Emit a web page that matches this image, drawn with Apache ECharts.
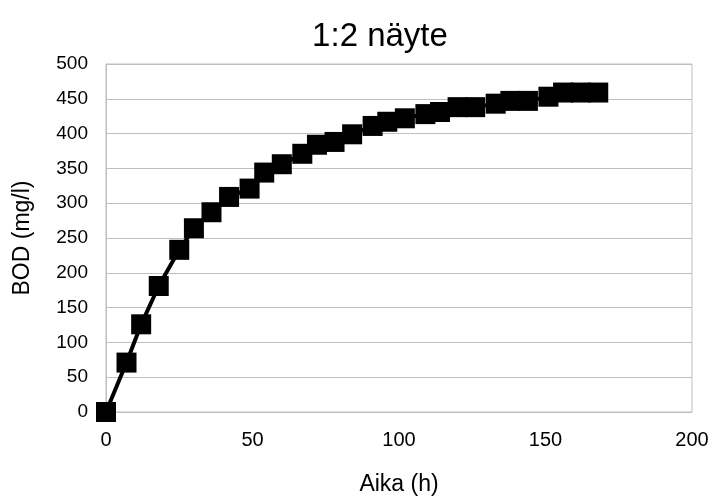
<!DOCTYPE html>
<html>
<head>
<meta charset="utf-8">
<script src="https://cdn.jsdelivr.net/npm/echarts@6/dist/echarts.min.js"></script>
<style>
    html, body { margin: 0; padding: 0; background: #fff; }
    #chart { width: 713px; height: 498px; }
</style>
</head>
<body>
<div id="chart"></div>
<script>
    // aika (h)
    var hours = [0, 7, 12, 18, 25, 30, 36, 42, 49, 54, 60, 67, 72, 78, 84, 91, 96, 102, 109, 114, 120, 126, 133, 138, 144, 151, 156, 162, 168];
    // BOD (mg/l)
    var bod = [0, 71, 126, 181, 233, 264, 287, 309, 321, 344, 356, 371, 384, 388, 399, 411, 417, 422, 428, 431, 438, 438, 443, 447, 447, 453, 459, 459, 459];

    var points = hours.map(function (h, i) { return [h, bod[i]]; });

    var font = 'Liberation Sans, Arial, sans-serif';
    var myChart = echarts.init(document.getElementById('chart'));

    var option = {
        animation: false,
        title: {
            text: '1:2 näyte',
            left: 375,
            textAlign: 'center',
            top: 15,
            textStyle: { fontFamily: font, fontSize: 33, fontWeight: 'normal', color: '#000' }
        },
        grid: {
            left: 106, right: 21, top: 64, bottom: 86,
            outerBoundsMode: 'none',
            show: true, borderColor: '#bfbfbf', borderWidth: 1
        },
        xAxis: {
            type: 'value', min: 0, max: 200, interval: 50,
            name: 'Aika (h)', nameLocation: 'middle', nameGap: 61,
            nameTextStyle: { fontFamily: font, fontSize: 23, color: '#000' },
            axisLine: { lineStyle: { color: '#bfbfbf', width: 1 } },
            axisTick: { show: false },
            axisLabel: { fontFamily: font, fontSize: 20, color: '#000', margin: 18 },
            splitLine: { show: false }
        },
        yAxis: {
            type: 'value', min: 0, max: 500, interval: 50,
            name: 'BOD (mg/l)', nameLocation: 'middle', nameGap: 72,
            nameTextStyle: { fontFamily: font, fontSize: 23, color: '#000' },
            axisLine: { show: true, lineStyle: { color: '#bfbfbf', width: 1 } },
            axisTick: { show: false },
            axisLabel: { fontFamily: font, fontSize: 19, color: '#000', margin: 18 },
            splitLine: { lineStyle: { color: '#bfbfbf', width: 1 } }
        },
        series: [{
            type: 'line',
            data: points,
            symbol: 'rect',
            symbolSize: 20,
            lineStyle: { color: '#000', width: 4 },
            itemStyle: { color: '#000' }
        }]
    };

    myChart.setOption(option);
</script>
</body>
</html>
